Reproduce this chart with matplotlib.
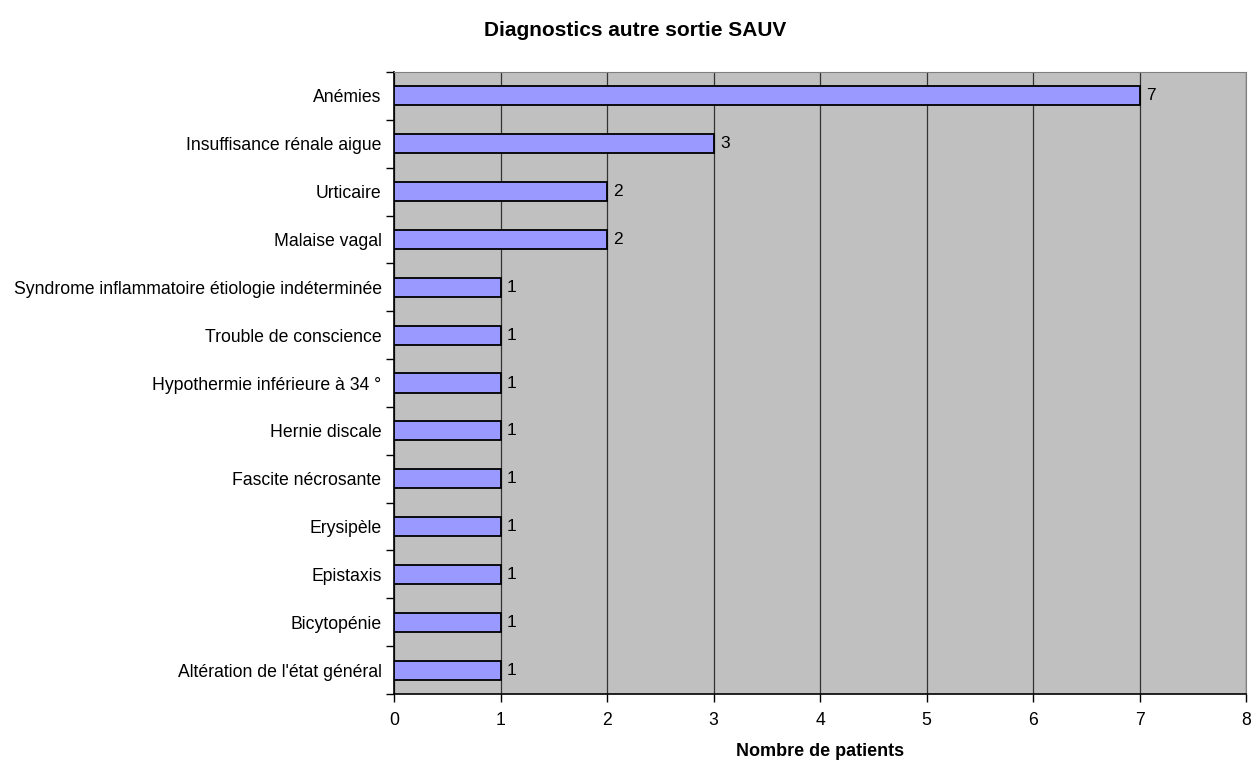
import numpy as np
import matplotlib.pyplot as plt
from matplotlib.ticker import MultipleLocator

plt.rcParams['font.family'] = ['Liberation Sans', 'DejaVu Sans']

# diagnostics (bottom to top) and patient counts
diagnostics = ["Altération de l'état général", "Bicytopénie", "Epistaxis", "Erysipèle",
               "Fascite nécrosante", "Hernie discale", "Hypothermie inférieure à 34 °",
               "Trouble de conscience", "Syndrome inflammatoire étiologie indéterminée",
               "Malaise vagal", "Urticaire", "Insuffisance rénale aigue", "Anémies"]
patients = [1, 1, 1, 1, 1, 1, 1, 1, 1, 2, 2, 3, 7]

fig = plt.figure(figsize=(12.59, 7.63), dpi=100)
ax = fig.add_axes([394/1259, 1-694/763, (1246-394)/1259, (694-72)/763])
ax.set_facecolor('#C0C0C0')

y = np.arange(len(diagnostics))
ax.barh(y, patients, height=0.4, color='#9999FF', edgecolor='black', linewidth=1.3, zorder=3)
for yi, v in zip(y, patients):
    ax.text(v + 0.06, yi, str(v), va='center', ha='left', fontsize=12.5, zorder=4)

ax.set_xlim(0, 8)
ax.set_ylim(-0.5, len(diagnostics) - 0.5)
ax.xaxis.set_major_locator(MultipleLocator(1))
ax.grid(axis='x', color='#333333', linewidth=0.9, zorder=1)

# category labels without ticks, ticks on category boundaries
ax.set_yticks(y)
ax.set_yticklabels(diagnostics, fontsize=12.7)
ax.tick_params(axis='y', which='major', length=0, pad=9)
ax.set_yticks(np.arange(-0.5, len(diagnostics)), minor=True)
ax.tick_params(axis='y', which='minor', length=6, width=1, direction='out')
ax.tick_params(axis='x', length=6, width=1, labelsize=12.7, pad=7)

for s in ['left', 'bottom']:
    ax.spines[s].set_color('black')
    ax.spines[s].set_linewidth(1.2)
for s in ['top', 'right']:
    ax.spines[s].set_color('#808080')

ax.set_xlabel('Nombre de patients', fontsize=13, fontweight='bold', labelpad=10)
fig.text(635/1259, 1 - 30/763, 'Diagnostics autre sortie SAUV', ha='center', va='center',
         fontsize=15, fontweight='bold')

fig.savefig('out.png', dpi=100)
